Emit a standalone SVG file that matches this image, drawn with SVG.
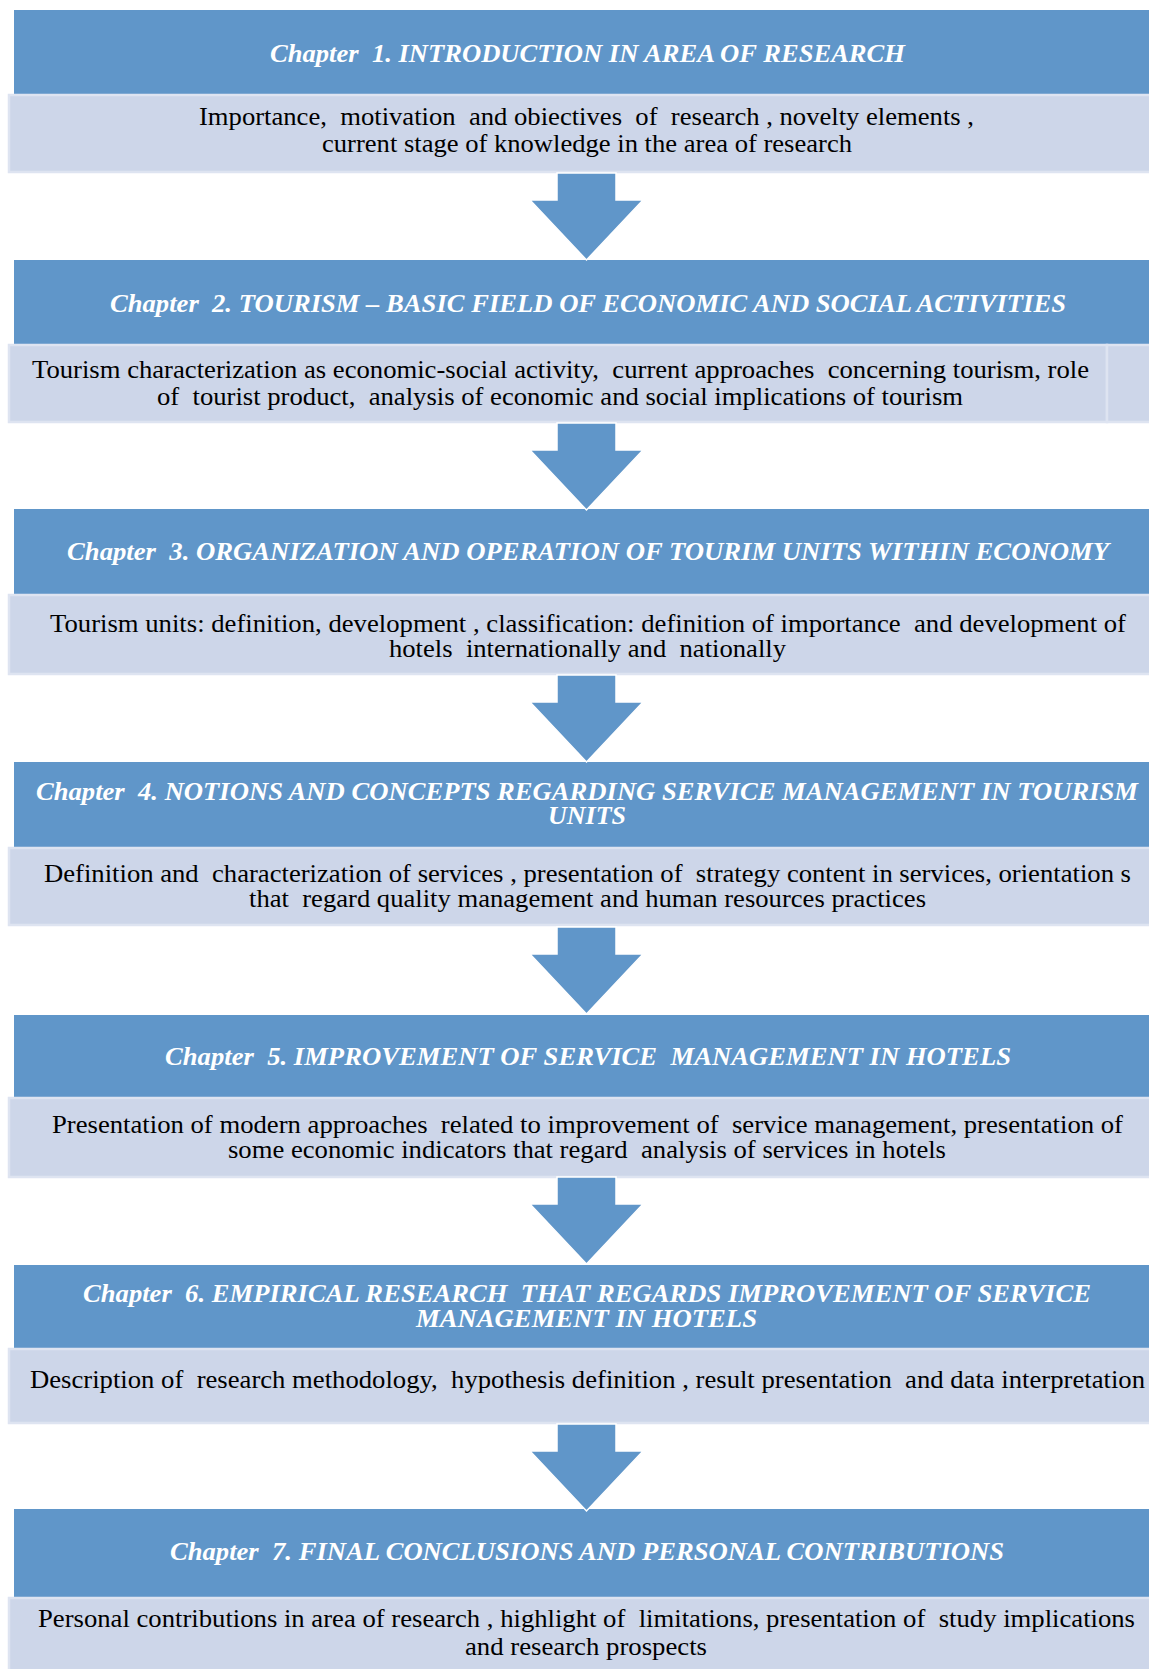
<svg xmlns="http://www.w3.org/2000/svg" width="1149" height="1669" viewBox="0 0 1149 1669" xml:space="preserve">
  <style>
    .hdr { fill: #6096C9; }
    .body { fill: #CDD6E9; stroke: #DEE4F1; stroke-width: 2.5; }
    .arrow { fill: #6096C9; stroke: #FFFFFF; stroke-width: 1.5; stroke-linejoin: miter; }
    .ht { font-family: "Liberation Serif", "Times New Roman", serif; font-size: 26px; font-weight: bold; font-style: italic; fill: #FFFFFF; white-space: pre; }
    .bt { font-family: "Liberation Serif", "Times New Roman", serif; font-size: 26px; fill: #000000; white-space: pre; }
  </style>
  <defs>
    <!-- block arrow pointing down, tip at origin -->
    <path id="down" d="M -29.5 -87 L 29.5 -87 L 29.5 -60 L 56.5 -60 L 0 0 L -56.5 -60 L -29.5 -60 Z"/>
  </defs>
  <rect width="1149" height="1669" fill="#FFFFFF"/>

  <!-- chapter blocks -->
  <g id="chapter1">
    <rect class="hdr" x="14" y="10" width="1140" height="84"/>
    <rect class="body" x="9" y="95" width="1145" height="77"/>
    <text class="ht" x="270" y="62" textLength="635" lengthAdjust="spacingAndGlyphs">Chapter  1. INTRODUCTION IN AREA OF RESEARCH</text>
    <text class="bt" x="199" y="125" textLength="775" lengthAdjust="spacingAndGlyphs">Importance,  motivation  and obiectives  of  research , novelty elements ,</text>
    <text class="bt" x="322" y="152" textLength="530" lengthAdjust="spacingAndGlyphs">current stage of knowledge in the area of research</text>
  </g>

  <g id="chapter2">
    <rect class="hdr" x="14" y="260" width="1140" height="84"/>
    <rect class="body" x="9" y="345" width="1098" height="77"/>
    <rect class="body" x="1107" y="345" width="47" height="77"/>
    <text class="ht" x="110" y="312" textLength="956" lengthAdjust="spacingAndGlyphs">Chapter  2. TOURISM – BASIC FIELD OF ECONOMIC AND SOCIAL ACTIVITIES</text>
    <text class="bt" x="32" y="378" textLength="1057" lengthAdjust="spacingAndGlyphs">Tourism characterization as economic-social activity,  current approaches  concerning tourism, role</text>
    <text class="bt" x="157" y="405" textLength="806" lengthAdjust="spacingAndGlyphs">of  tourist product,  analysis of economic and social implications of tourism</text>
  </g>

  <g id="chapter3">
    <rect class="hdr" x="14" y="509" width="1140" height="85"/>
    <rect class="body" x="9" y="595" width="1145" height="79"/>
    <text class="ht" x="67" y="560" textLength="1042" lengthAdjust="spacingAndGlyphs">Chapter  3. ORGANIZATION AND OPERATION OF TOURIM UNITS WITHIN ECONOMY</text>
    <text class="bt" x="50" y="632" textLength="1076" lengthAdjust="spacingAndGlyphs">Tourism units: definition, development , classification: definition of importance  and development of</text>
    <text class="bt" x="389" y="657" textLength="397" lengthAdjust="spacingAndGlyphs">hotels  internationally and  nationally</text>
  </g>

  <g id="chapter4">
    <rect class="hdr" x="14" y="762" width="1140" height="85"/>
    <rect class="body" x="9" y="848" width="1145" height="77"/>
    <text class="ht" x="36" y="800" textLength="1102" lengthAdjust="spacingAndGlyphs">Chapter  4. NOTIONS AND CONCEPTS REGARDING SERVICE MANAGEMENT IN TOURISM</text>
    <text class="ht" x="548" y="824" textLength="78" lengthAdjust="spacingAndGlyphs">UNITS</text>
    <text class="bt" x="44" y="882" textLength="1087" lengthAdjust="spacingAndGlyphs">Definition and  characterization of services , presentation of  strategy content in services, orientation s</text>
    <text class="bt" x="249" y="907" textLength="677" lengthAdjust="spacingAndGlyphs">that  regard quality management and human resources practices</text>
  </g>

  <g id="chapter5">
    <rect class="hdr" x="14" y="1015" width="1140" height="82"/>
    <rect class="body" x="9" y="1098" width="1145" height="79"/>
    <text class="ht" x="165" y="1065" textLength="846" lengthAdjust="spacingAndGlyphs">Chapter  5. IMPROVEMENT OF SERVICE  MANAGEMENT IN HOTELS</text>
    <text class="bt" x="52" y="1133" textLength="1071" lengthAdjust="spacingAndGlyphs">Presentation of modern approaches  related to improvement of  service management, presentation of</text>
    <text class="bt" x="228" y="1158" textLength="718" lengthAdjust="spacingAndGlyphs">some economic indicators that regard  analysis of services in hotels</text>
  </g>

  <g id="chapter6">
    <rect class="hdr" x="14" y="1265" width="1140" height="83"/>
    <rect class="body" x="9" y="1349" width="1145" height="74"/>
    <text class="ht" x="83" y="1302" textLength="1008" lengthAdjust="spacingAndGlyphs">Chapter  6. EMPIRICAL RESEARCH  THAT REGARDS IMPROVEMENT OF SERVICE</text>
    <text class="ht" x="416" y="1327" textLength="341" lengthAdjust="spacingAndGlyphs">MANAGEMENT IN HOTELS</text>
    <text class="bt" x="30" y="1388" textLength="1115" lengthAdjust="spacingAndGlyphs">Description of  research methodology,  hypothesis definition , result presentation  and data interpretation</text>
  </g>

  <g id="chapter7">
    <rect class="hdr" x="14" y="1509" width="1140" height="88"/>
    <rect class="body" x="9" y="1598" width="1145" height="80"/>
    <text class="ht" x="170" y="1560" textLength="834" lengthAdjust="spacingAndGlyphs">Chapter  7. FINAL CONCLUSIONS AND PERSONAL CONTRIBUTIONS</text>
    <text class="bt" x="38" y="1627" textLength="1097" lengthAdjust="spacingAndGlyphs">Personal contributions in area of research , highlight of  limitations, presentation of  study implications</text>
    <text class="bt" x="465" y="1655" textLength="242" lengthAdjust="spacingAndGlyphs">and research prospects</text>
  </g>

  <!-- flow arrows between chapters -->
  <g id="connectors">
    <use href="#down" class="arrow" x="586.5" y="260"/>
    <use href="#down" class="arrow" x="586.5" y="510"/>
    <use href="#down" class="arrow" x="586.5" y="762"/>
    <use href="#down" class="arrow" x="586.5" y="1014"/>
    <use href="#down" class="arrow" x="586.5" y="1264"/>
    <use href="#down" class="arrow" x="586.5" y="1511"/>
  </g>
</svg>
